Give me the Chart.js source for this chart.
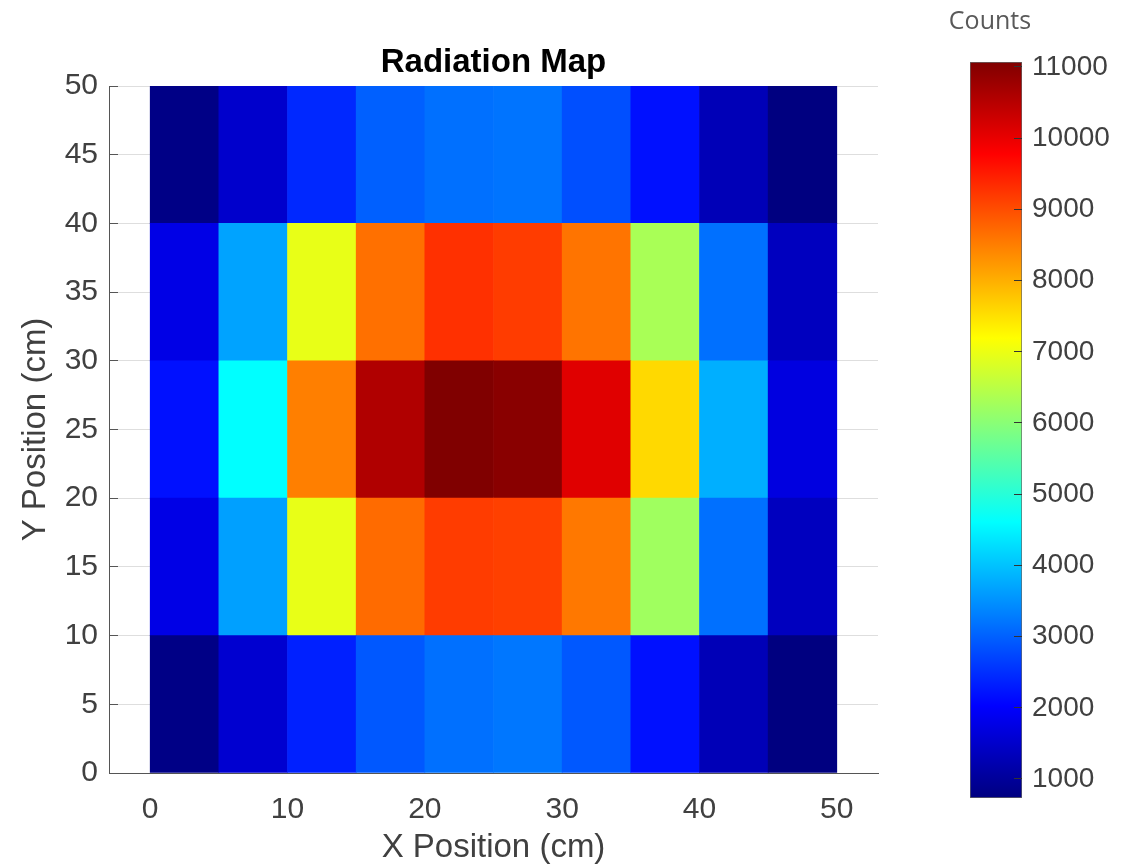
<!DOCTYPE html>
<html>
<head>
<meta charset="utf-8">
<title>Radiation Map</title>
<script src="https://cdn.jsdelivr.net/npm/chart.js@4.4.1/dist/chart.umd.min.js"></script>
<style>
  html, body { margin: 0; padding: 0; background: #fff; }
  .wrap { position: relative; width: 1137px; height: 866px; overflow: hidden; }
  #map { position: absolute; left: 0; top: 0; }
  #colorbar { position: absolute; left: 930px; top: 0; }
  .colorbar-label {
    position: absolute; left: 940px; top: 4px; width: 100px;
    text-align: center; font: 400 25px/30px "Open Sans", sans-serif; color: #595959;
  }
</style>
</head>
<body>
<div class="wrap">
  <canvas id="map" width="930" height="866"></canvas>
  <canvas id="colorbar" width="207" height="866"></canvas>
  <div class="colorbar-label">Counts</div>
</div>
<script>
// cell centres along x (cm) and row edges along y (cm)
const xCenters = [2.5, 7.5, 12.5, 17.5, 22.5, 27.5, 32.5, 37.5, 42.5, 47.5]
const yEdges = [0, 10, 20, 30, 40, 50]

// counts per row, bottom row first
const counts0to10 = [800, 1550, 2350, 2920, 3160, 3230, 2920, 2190, 1300, 733]
const counts10to20 = [1770, 3650, 6960, 8690, 9170, 9130, 8560, 6230, 3160, 1380]
const counts20to30 = [2190, 4610, 8490, 10580, 11070, 10970, 10090, 7580, 3800, 1715]
const counts30to40 = [1770, 3680, 6960, 8640, 9290, 9170, 8600, 6320, 3160, 1380]
const counts40to50 = [800, 1508, 2430, 2999, 3160, 3200, 2830, 2190, 1300, 733]
const rows = [counts0to10, counts10to20, counts20to30, counts30to40, counts40to50]

const xTicks = [0, 10, 20, 30, 40, 50]
const yTicks = [0, 5, 10, 15, 20, 25, 30, 35, 40, 45, 50]
const colorTicks = [1000, 2000, 3000, 4000, 5000, 6000, 7000, 8000, 9000, 10000, 11000]
const colorMin = 733
const colorMax = 11070

Chart.defaults.font.family = '"Liberation Sans", Arial, sans-serif'
Chart.defaults.color = '#404040'

const clamp = v => Math.max(0, Math.min(1, v))

const jet = value => {
    const t = clamp((value - colorMin) / (colorMax - colorMin))
    const r = clamp(Math.min(4 * t - 1.5, -4 * t + 4.5))
    const g = clamp(Math.min(4 * t - 0.5, -4 * t + 3.5))
    const b = clamp(Math.min(4 * t + 0.5, -4 * t + 2.5))

    return `rgb(${Math.round(r * 255)}, ${Math.round(g * 255)}, ${Math.round(b * 255)})`
}

const setTicks = values => scale => {
    scale.ticks = values.map(value => ({ value }))
}

const mapChart = new Chart(document.querySelector('#map'), {
    type: 'bar',
    data: {
        datasets: rows.map((row, i) => ({
            label: `${yEdges[i]}-${yEdges[i + 1]} cm`,
            data: row.map((v, j) => ({ x: xCenters[j], y: [yEdges[i], yEdges[i + 1]] })),
            backgroundColor: row.map(jet),
            borderWidth: 0,
            grouped: false,
            categoryPercentage: 1,
            barPercentage: 1
        }))
    },
    options: {
        responsive: false,
        animation: false,
        layout: { padding: { left: 0, right: 52, top: 0, bottom: 0 } },
        plugins: {
            legend: { display: false },
            tooltip: { enabled: false },
            title: {
                display: true,
                text: 'Radiation Map',
                fullSize: false,
                color: '#000',
                font: { size: 33, weight: 'bold' },
                padding: { top: 43, bottom: 3.4 }
            }
        },
        scales: {
            x: {
                type: 'linear',
                offset: false,
                min: -3,
                max: 53,
                afterBuildTicks: setTicks(xTicks),
                afterFit: scale => { scale.height = 93 },
                grid: { display: false, offset: false },
                border: { color: '#555', width: 1 },
                ticks: { color: '#404040', font: { size: 30 }, padding: 11 },
                title: {
                    display: true,
                    text: 'X Position (cm)',
                    color: '#404040',
                    font: { size: 33 },
                    padding: { top: 0, bottom: -2 }
                }
            },
            y: {
                type: 'linear',
                min: 0,
                max: 50,
                afterBuildTicks: setTicks(yTicks),
                afterFit: scale => { scale.width = 109 },
                grid: { color: '#dedede', lineWidth: 1, tickLength: -9, tickColor: '#555', tickWidth: 1 },
                border: { color: '#555', width: 1 },
                ticks: { color: '#404040', font: { size: 30 }, padding: 20 },
                title: {
                    display: true,
                    text: 'Y Position (cm)',
                    color: '#404040',
                    font: { size: 33 },
                    padding: { top: 16, bottom: 0 }
                }
            }
        }
    }
})

const colorbarChart = new Chart(document.querySelector('#colorbar'), {
    type: 'bar',
    data: {
        labels: ['Counts'],
        datasets: [{
            data: [[colorMin, colorMax]],
            backgroundColor: context => {
                const { chart } = context

                if (!chart.chartArea) return null

                const yScale = chart.scales.y
                const gradient = chart.ctx.createLinearGradient(0, yScale.getPixelForValue(colorMin), 0, yScale.getPixelForValue(colorMax))

                for (let i = 0; i <= 32; i++) {
                    gradient.addColorStop(i / 32, jet(colorMin + (colorMax - colorMin) * i / 32))
                }

                return gradient
            },
            borderColor: '#666',
            borderWidth: 1,
            borderSkipped: false,
            categoryPercentage: 1,
            barPercentage: 1
        }]
    },
    options: {
        responsive: false,
        animation: false,
        layout: { padding: { left: 40, right: 0, top: 62, bottom: 68 } },
        plugins: {
            legend: { display: false },
            tooltip: { enabled: false }
        },
        scales: {
            x: { display: false },
            y: {
                position: 'right',
                min: colorMin,
                max: colorMax,
                afterBuildTicks: setTicks(colorTicks),
                afterFit: scale => { scale.width = 115 },
                grid: { drawOnChartArea: false, tickLength: -8, tickColor: '#333', tickWidth: 1, z: 1 },
                border: { display: false },
                ticks: { color: '#404040', font: { size: 28 }, padding: 18, callback: value => String(value) }
            }
        }
    }
})
</script>
</body>
</html>
